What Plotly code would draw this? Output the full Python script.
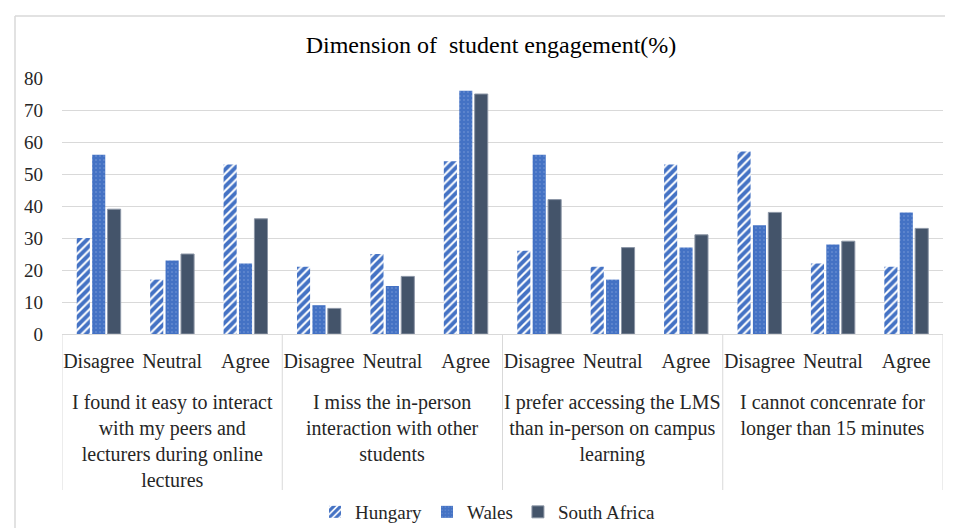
import plotly.graph_objects as go

# ---- data ----
groups = [
    "I found it easy to interact<br>with my peers and<br>lecturers during online<br>lectures",
    "I miss the in-person<br>interaction with other<br>students",
    "I prefer accessing the LMS<br>than in-person on campus<br>learning",
    "I cannot concenrate for<br>longer than 15 minutes",
]
responses = ["Disagree", "Neutral", "Agree"]
hungary = [30, 17, 53, 21, 25, 54, 26, 21, 53, 57, 22, 21]
wales = [56, 23, 22, 9, 15, 76, 56, 17, 27, 34, 28, 38]
south_africa = [39, 25, 36, 8, 18, 75, 42, 27, 31, 38, 29, 33]
y_ticks = [0, 10, 20, 30, 40, 50, 60, 70, 80]

# category ids (one per group/response pair)
cat_ids = [f"{gi}|{r}" for gi in range(len(groups)) for r in responses]
cat_text = [r for gi in range(len(groups)) for r in responses]

FONT = "Liberation Serif"
BLUE = "#4472C4"
SLATE = "#44546A"
GRID = "#D9D9D9"
TXT = "#262626"

fig = go.Figure()
fig.add_trace(go.Bar(
    name="Hungary", x=cat_ids, y=hungary,
    marker=dict(color="white", line=dict(width=0),
                pattern=dict(shape="/", fgcolor=BLUE, bgcolor="white", size=6,
                             solidity=0.65, fgopacity=1)),
))
fig.add_trace(go.Bar(
    name="Wales", x=cat_ids, y=wales,
    marker=dict(color=BLUE, line=dict(width=0),
                pattern=dict(shape=".", fgcolor="#B4C7EC", bgcolor=BLUE, size=4, solidity=0.12)),
))
fig.add_trace(go.Bar(
    name="South Africa", x=cat_ids, y=south_africa,
    marker=dict(color=SLATE, line=dict(width=1, color="#8C96A6")),
))

OFF = 8  # page body margin
W, H = 953 - OFF, 528 - OFF
L = 62 - OFF
T = 78 - OFF
R = W - (943 - OFF)
B = H - (334 - OFF)
pw = W - L - R
ph = H - T - B

def px2x(px):  # screen px -> paper x
    return (px - OFF - L) / pw

def py2y(py):  # screen px -> paper y
    return (H - B - (py - OFF)) / ph

# group dividers
n = len(cat_ids)
for k in range(len(groups) + 1):
    xv = k * len(responses) - 0.5
    fig.add_shape(type="line", xref="x", yref="paper", x0=xv, x1=xv,
                  y0=0, y1=py2y(490), line=dict(color=GRID, width=1))

# group labels
for gi, g in enumerate(groups):
    fig.add_annotation(x=gi * len(responses) + 1, xref="x", y=py2y(389), yref="paper",
                       yanchor="top", xanchor="center", text=g, showarrow=False,
                       font=dict(family=FONT, size=20, color=TXT), align="center")

# outer chart border (top + left visible)
fig.add_shape(type="line", xref="paper", yref="paper", x0=px2x(15), x1=px2x(970),
              y0=py2y(16), y1=py2y(16), line=dict(color=GRID, width=1.5))
fig.add_shape(type="line", xref="paper", yref="paper", x0=px2x(15), x1=px2x(15),
              y0=py2y(16), y1=py2y(560), line=dict(color=GRID, width=1.5))

fig.update_layout(
    width=W, height=H,
    margin=dict(l=L, r=R, t=T, b=B, autoexpand=False),
    paper_bgcolor="white", plot_bgcolor="white",
    barmode="group", bargap=0.37, bargroupgap=0.15,
    font=dict(family=FONT, size=19, color=TXT),
    title=dict(text="Dimension of  student engagement(%)", x=(491 - OFF) / W, xanchor="center",
               y=1 - (45 - OFF) / H, yanchor="middle",
               font=dict(family=FONT, size=24, color="#000000")),
    legend=dict(orientation="h", x=px2x(488), xanchor="center", y=py2y(512), yanchor="middle",
                font=dict(family=FONT, size=19, color=TXT), traceorder="normal",
                itemwidth=30),
    showlegend=True,
)
fig.update_xaxes(type="category", categoryorder="array", categoryarray=cat_ids,
                 tickmode="array", tickvals=cat_ids, ticktext=cat_text,
                 showline=True, linecolor=GRID, linewidth=1, ticks="",
                 tickfont=dict(family=FONT, size=20, color=TXT), showgrid=False,
                 ticklabelstandoff=9, range=[-0.5, n - 0.5])
fig.update_yaxes(range=[0, 80], tickvals=y_ticks, showgrid=True, gridcolor=GRID, gridwidth=1,
                 zeroline=False, showline=False, ticks="",
                 tickfont=dict(family=FONT, size=19, color=TXT), ticklabelstandoff=18)

fig.write_html("out.html")
